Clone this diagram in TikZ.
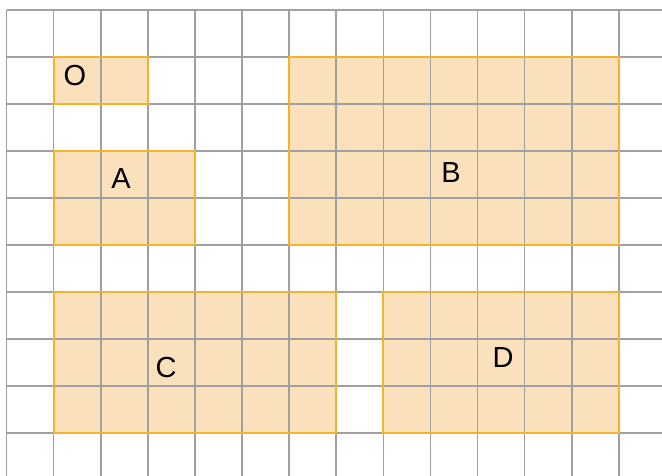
\documentclass[tikz,border=0pt]{standalone}
\usepackage{fontspec}
\setmainfont{Liberation Sans}
\definecolor{regfill}{RGB}{250,225,188}
\definecolor{regline}{RGB}{245,178,44}
\definecolor{gridgray}{RGB}{160,160,160}
\begin{document}
\begin{tikzpicture}[x=47.1pt,y=-47pt,
  region/.style={fill=regfill},
  regborder/.style={draw=regline,line width=2pt},
  gridline/.style={draw=gridgray,line width=1.6pt},
  lbl/.style={font=\fontsize{29}{29}\selectfont,text=black,inner sep=0pt}]
\useasboundingbox (-0.138,-0.2128) rectangle (13.917,9.894);
\fill[white] (-0.138,-0.2128) rectangle (13.917,9.894);
\clip (-0.138,-0.2128) rectangle (13.917,9.894);
% region fills
\fill[region] (1,1) rectangle (3,2);
\fill[region] (1,3) rectangle (4,5);
\fill[region] (6,1) rectangle (13,5);
\fill[region] (1,6) rectangle (7,9);
\fill[region] (8,6) rectangle (13,9);
% grid
\foreach \i in {0,...,14} \draw[gridline] (\i,0) -- (\i,10);
\foreach \j in {0,...,9} \draw[gridline] (0,\j) -- (14.5,\j);
% region borders
\draw[regborder] (1,1) rectangle (3,2);
\draw[regborder] (1,3) rectangle (4,5);
\draw[regborder] (6,1) rectangle (13,5);
\draw[regborder] (1,6) rectangle (7,9);
\draw[regborder] (8,6) rectangle (13,9);
% labels
\node[lbl] (lO) at (1.454,1.404) {O};
\node[lbl] (lA) at (2.431,3.596) {A};
\node[lbl] (lB) at (9.437,3.468) {B};
\node[lbl] (lC) at (3.386,7.617) {C};
\node[lbl] (lD) at (10.541,7.404) {D};
\end{tikzpicture}
\end{document}
